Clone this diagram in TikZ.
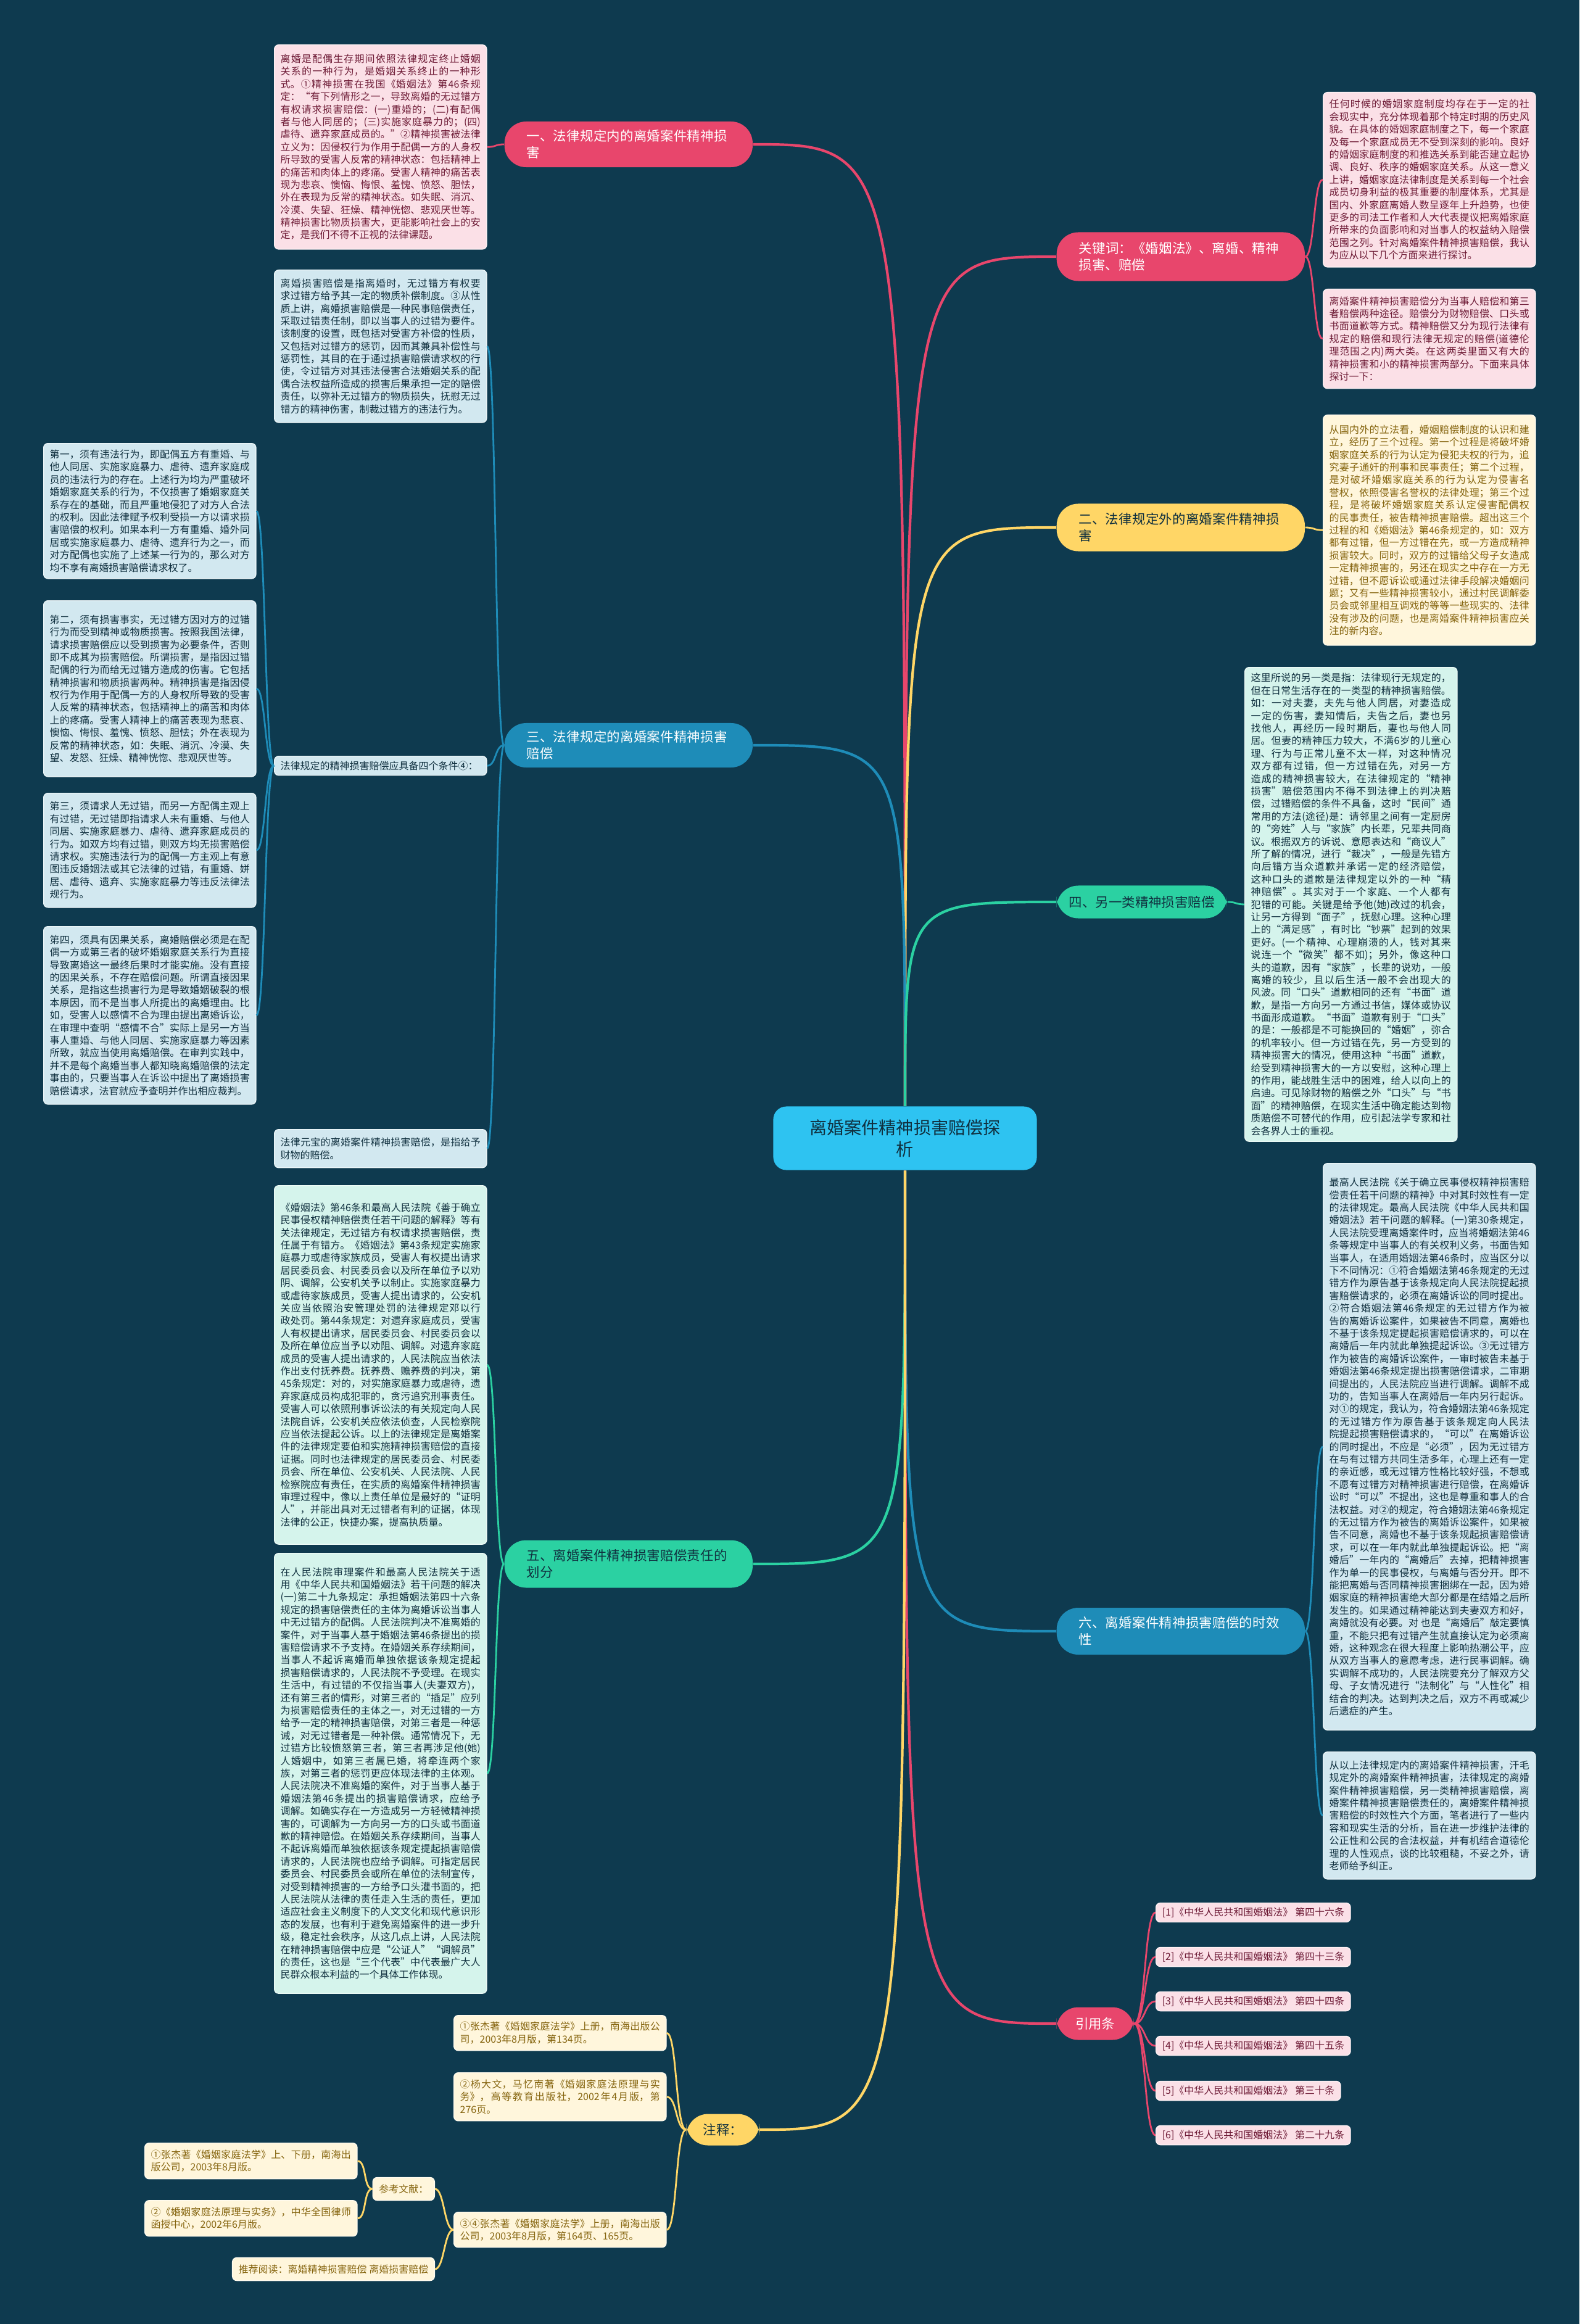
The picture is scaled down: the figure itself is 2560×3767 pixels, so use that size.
\documentclass[tikz,border=0pt]{standalone}
\usepackage{fontspec}
\setmainfont{Noto Sans CJK SC}
\XeTeXlinebreaklocale "zh"
\XeTeXlinebreakskip=0pt plus 0.6pt
\usetikzlibrary{calc}

\definecolor{bgteal}{HTML}{0E3A4F}
\definecolor{rosebr}{HTML}{E8466C}
\definecolor{rosebox}{HTML}{FBE0E7}
\definecolor{rosetxt}{HTML}{6E1B36}
\definecolor{goldbr}{HTML}{FFD666}
\definecolor{goldbox}{HTML}{FFF6DC}
\definecolor{goldtxt}{HTML}{85640E}
\definecolor{bluebr}{HTML}{1E8CB8}
\definecolor{bluebox}{HTML}{D2E8F0}
\definecolor{mintbr}{HTML}{2BD1A2}
\definecolor{mintbox}{HTML}{D5F4EC}
\definecolor{deeptxt}{HTML}{10303F}
\definecolor{hubcyan}{HTML}{2EC3F1}

\begin{document}
\begin{tikzpicture}[x=0.01cm, y=-0.01cm,
  leaf/.style={draw=white!55!#1, line width=0.4pt, fill=#1, rounded corners=2pt, anchor=north west,
    text width=3.24cm, inner xsep=0.1cm, inner ysep=0.08cm, align=justify,
    font=\fontsize{4.55}{5.8}\selectfont},
  roseleaf/.style={leaf=rosebox, text=rosetxt},
  goldleaf/.style={leaf=goldbox, text=goldtxt},
  blueleaf/.style={leaf=bluebox, text=deeptxt},
  mintleaf/.style={leaf=mintbox, text=deeptxt},
  tag/.style={draw=white!55!#1, line width=0.4pt, fill=#1, rounded corners=2pt, anchor=west,
    inner xsep=0.1cm, inner ysep=0.06cm, minimum height=0.31cm,
    font=\fontsize{4.55}{5.8}\selectfont},
  pill/.style={fill=#1, rounded corners=10pt, anchor=west, minimum height=0.74cm,
    inner xsep=0.36cm, inner ysep=0.08cm, align=left, font=\fontsize{6.1}{7.6}\selectfont},
  twig/.style={to path={.. controls ($(\tikztostart)+(#1,0)$) and ($(\tikztotarget)-(#1,0)$) .. (\tikztotarget)}},
  hubline/.style={line width=1.2pt},
  twigline/.style={line width=0.8pt}]

\fill[bgteal] (0,0) rectangle (2560,3767);
\useasboundingbox (0,0) rectangle (2560,3767);

\node[fill=hubcyan, text=deeptxt, rounded corners=6pt, minimum width=4.27cm, minimum height=1.03cm,
  align=center, font=\fontsize{8}{10}\selectfont] (hub) at (1467,1845) {离婚案件精神损害赔偿探\\析};

\node[pill=rosebr, text=white, text width=3.3cm] (lawin) at (817,234) {一、法律规定内的离婚案件精神损害};
\node[pill=rosebr, text=white, text width=3.3cm, minimum height=0.79cm] (keyw) at (1712,416) {关键词：《婚姻法》、离婚、精神损害、赔偿};
\node[pill=goldbr, text=deeptxt, text width=3.3cm, minimum height=0.77cm] (lawout) at (1712,855) {二、法律规定外的离婚案件精神损害};
\node[pill=bluebr, text=white, text width=3.3cm, minimum height=0.72cm] (lawrule) at (817,1208) {三、法律规定的离婚案件精神损害赔偿};
\node[pill=mintbr, text=deeptxt, minimum width=2.76cm, minimum height=0.53cm, inner xsep=0.17cm] (other) at (1712,1462) {四、另一类精神损害赔偿};
\node[pill=mintbr, text=deeptxt, text width=3.3cm, minimum height=0.77cm] (duty) at (817,2535) {五、离婚案件精神损害赔偿责任的划分};
\node[pill=bluebr, text=white, text width=3.3cm, minimum height=0.76cm] (limit) at (1712,2644) {六、离婚案件精神损害赔偿的时效性};
\node[pill=rosebr, text=white, minimum width=1.25cm, minimum height=0.53cm, inner xsep=0.2cm] (cite) at (1712,3280) {引用条};
\node[pill=goldbr, text=deeptxt, minimum width=1.18cm, minimum height=0.51cm, inner xsep=0.2cm] (note) at (1112,3452) {注释：};

\node[roseleaf, minimum height=3.31cm] (lawinA) at (444,72) {离婚是配偶生存期间依照法律规定终止婚姻关系的一种行为，是婚姻关系终止的一种形式。①精神损害在我国《婚姻法》第46条规定：“有下列情形之一，导致离婚的无过错方有权请求损害赔偿：(一)重婚的；(二)有配偶者与他人同居的；(三)实施家庭暴力的；(四)虐待、遗弃家庭成员的。”②精神损害被法律立义为：因侵权行为作用于配偶一方的人身权所导致的受害人反常的精神状态：包括精神上的痛苦和肉体上的疼痛。受害人精神的痛苦表现为悲哀、懊恼、悔恨、羞愧、愤怒、胆怯，外在表现为反常的精神状态。如失眠、消沉、冷漠、失望、狂燥、精神恍惚、悲观厌世等。精神损害比物质损害大，更能影响社会上的安定，是我们不得不正视的法律课题。};

\node[roseleaf, minimum height=2.83cm] (keywA) at (2144,149) {任何时候的婚姻家庭制度均存在于一定的社会现实中，充分体现着那个特定时期的历史风貌。在具体的婚姻家庭制度之下，每一个家庭及每一个家庭成员无不受到深刻的影响。良好的婚姻家庭制度的和推选关系到能否建立起协调、良好、秩序的婚姻家庭关系。从这一意义上讲，婚姻家庭法律制度是关系到每一个社会成员切身利益的极其重要的制度体系，尤其是国内、外家庭离婚人数呈逐年上升趋势，也使更多的司法工作者和人大代表提议把离婚家庭所带来的负面影响和对当事人的权益纳入赔偿范围之列。针对离婚案件精神损害赔偿，我认为应从以下几个方面来进行探讨。};
\node[roseleaf, minimum height=1.61cm] (keywB) at (2144,468) {离婚案件精神损害赔偿分为当事人赔偿和第三者赔偿两种途径。赔偿分为财物赔偿、口头或书面道歉等方式。精神赔偿又分为现行法律有规定的赔偿和现行法律无规定的赔偿(道德伦理范围之内)两大类。在这两类里面又有大的精神损害和小的精神损害两部分。下面来具体探讨一下：};

\node[goldleaf, minimum height=3.73cm] (lawoutA) at (2144,672) {从国内外的立法看，婚姻赔偿制度的认识和建立，经历了三个过程。第一个过程是将破坏婚姻家庭关系的行为认定为侵犯夫权的行为，追究妻子通奸的刑事和民事责任；第二个过程，是对破坏婚姻家庭关系的行为认定为侵害名誉权，依照侵害名誉权的法律处理；第三个过程，是将破坏婚姻家庭关系认定侵害配偶权的民事责任，被告精神损害赔偿。超出这三个过程的和《婚姻法》第46条规定的，如：双方都有过错，但一方过错在先，或一方造成精神损害较大。同时，双方的过错给父母子女造成一定精神损害的，另还在现实之中存在一方无过错，但不愿诉讼或通过法律手段解决婚姻问题；又有一些精神损害较小，通过村民调解委员会或邻里相互调戏的等等一些现实的、法律没有涉及的问题，也是离婚案件精神损害应关注的新内容。};

\node[blueleaf, minimum height=2.47cm] (lawruleA) at (444,437) {离婚损害赔偿是指离婚时，无过错方有权要求过错方给予其一定的物质补偿制度。③从性质上讲，离婚损害赔偿是一种民事赔偿责任，采取过错责任制，即以当事人的过错为要件。该制度的设置，既包括对受害方补偿的性质，又包括对过错方的惩罚，因而其兼具补偿性与惩罚性，其目的在于通过损害赔偿请求权的行使，令过错方对其违法侵害合法婚姻关系的配偶合法权益所造成的损害后果承担一定的赔偿责任，以弥补无过错方的物质损失，抚慰无过错方的精神伤害，制裁过错方的违法行为。};
\node[blueleaf, minimum height=0.31cm, inner ysep=0.04cm] (lawruleB) at (444,1225) {法律规定的精神损害赔偿应具备四个条件④：};
\node[blueleaf, minimum height=0.62cm] (lawruleC) at (444,1830) {法律元宝的离婚案件精神损害赔偿，是指给予财物的赔偿。};

\node[blueleaf, minimum height=2.19cm] (termA) at (70,718) {第一，须有违法行为，即配偶五方有重婚、与他人同居、实施家庭暴力、虐待、遗弃家庭成员的违法行为的存在。上述行为均为严重破坏婚姻家庭关系的行为，不仅损害了婚姻家庭关系存在的基础，而且严重地侵犯了对方人合法的权利。因此法律赋予权利受损一方以请求损害赔偿的权利。如果本利一方有重婚、婚外同居或实施家庭暴力、虐待、遗弃行为之一，而对方配偶也实施了上述某一行为的，那么对方均不享有离婚损害赔偿请求权了。};
\node[blueleaf, minimum height=2.85cm] (termB) at (70,973) {第二，须有损害事实，无过错方因对方的过错行为而受到精神或物质损害。按照我国法律，请求损害赔偿应以受到损害为必要条件，否则即不成其为损害赔偿。所谓损害，是指因过错配偶的行为而给无过错方造成的伤害。它包括精神损害和物质损害两种。精神损害是指因侵权行为作用于配偶一方的人身权所导致的受害人反常的精神状态，包括精神上的痛苦和肉体上的疼痛。受害人精神上的痛苦表现为悲哀、懊恼、悔恨、羞愧、愤怒、胆怯；外在表现为反常的精神状态，如：失眠、消沉、冷漠、失望、发怒、狂燥、精神恍惚、悲观厌世等。};
\node[blueleaf, minimum height=1.85cm] (termC) at (70,1285) {第三，须请求人无过错，而另一方配偶主观上有过错，无过错即指请求人未有重婚、与他人同居、实施家庭暴力、虐待、遗弃家庭成员的行为。如双方均有过错，则双方均无损害赔偿请求权。实施违法行为的配偶一方主观上有意图违反婚姻法或其它法律的过错，有重婚、姘居、虐待、遗弃、实施家庭暴力等违反法律法规行为。};
\node[blueleaf, minimum height=2.88cm] (termD) at (70,1501) {第四，须具有因果关系，离婚赔偿必须是在配偶一方或第三者的破坏婚姻家庭关系行为直接导致离婚这一最终后果时才能实施。没有直接的因果关系，不存在赔偿问题。所谓直接因果关系，是指这些损害行为是导致婚姻破裂的根本原因，而不是当事人所提出的离婚理由。比如，受害人以感情不合为理由提出离婚诉讼，在审理中查明“感情不合”实际上是另一方当事人重婚、与他人同居、实施家庭暴力等因素所致，就应当使用离婚赔偿。在审判实践中，并不是每个离婚当事人都知晓离婚赔偿的法定事由的，只要当事人在诉讼中提出了离婚损害赔偿请求，法官就应予查明并作出相应裁判。};

\node[mintleaf, minimum height=7.68cm] (otherA) at (2017,1081) {这里所说的另一类是指：法律现行无规定的，但在日常生活存在的一类型的精神损害赔偿。如：一对夫妻，夫先与他人同居，对妻造成一定的伤害，妻知情后，夫告之后，妻也另找他人，再经历一段时期后，妻也与他人同居。但妻的精神压力较大，不满6岁的儿童心理、行为与正常儿童不太一样，对这种情况双方都有过错，但一方过错在先，对另一方造成的精神损害较大，在法律规定的“精神损害”赔偿范围内不得不到法律上的判决赔偿，过错赔偿的条件不具备，这时“民间”通常用的方法(途径)是：请邻里之间有一定厨房的“旁姓”人与“家族”内长辈，兄辈共同商议。根据双方的诉说、意愿表达和“商议人”所了解的情况，进行“裁决”，一般是先错方向后错方当众道歉并承诺一定的经济赔偿，这种口头的道歉是法律规定以外的一种“精神赔偿”。其实对于一个家庭、一个人都有犯错的可能。关键是给予他(她)改过的机会，让另一方得到“面子”，抚慰心理。这种心理上的“满足感”，有时比“钞票”起到的效果更好。(一个精神、心理崩溃的人，钱对其来说连一个“微笑”都不如)；另外，像这种口头的道歉，因有“家族”，长辈的说劝，一般离婚的较少，且以后生活一般不会出现大的风波。同“口头”道歉相同的还有“书面”道歉，是指一方向另一方通过书信，媒体或协议书面形成道歉。“书面”道歉有别于“口头”的是：一般都是不可能换回的“婚姻”，弥合的机率较小。但一方过错在先，另一方受到的精神损害大的情况，使用这种“书面”道歉，给受到精神损害大的一方以安慰，这种心理上的作用，能战胜生活中的困难，给人以向上的启迪。可见除财物的赔偿之外“口头”与“书面”的精神赔偿，在现实生活中确定能达到物质赔偿不可替代的作用，应引起法学专家和社会各界人士的重视。};

\node[mintleaf, minimum height=5.81cm] (dutyA) at (444,1921) {《婚姻法》第46条和最高人民法院《善于确立民事侵权精神赔偿责任若干问题的解释》等有关法律规定，无过错方有权请求损害赔偿，责任属于有错方。《婚姻法》第43条规定实施家庭暴力或虐待家族成员，受害人有权提出请求居民委员会、村民委员会以及所在单位予以劝阴、调解，公安机关予以制止。实施家庭暴力或虐待家族成员，受害人提出请求的，公安机关应当依照治安管理处罚的法律规定邓以行政处罚。第44条规定：对遗弃家庭成员，受害人有权提出请求，居民委员会、村民委员会以及所在单位应当予以劝阻、调解。对遗弃家庭成员的受害人提出请求的，人民法院应当依法作出支付抚养费。抚养费、赡养费的判决，第45条规定：对的，对实施家庭暴力或虐待，遗弃家庭成员构成犯罪的，贪污追究刑事责任。受害人可以依照刑事诉讼法的有关规定向人民法院自诉，公安机关应依法侦查，人民检察院应当依法提起公诉。以上的法律规定是离婚案件的法律规定要伯和实施精神损害赔偿的直接证据。同时也法律规定的居民委员会、村民委员会、所在单位、公安机关、人民法院、人民检察院应有责任，在实质的离婚案件精神损害审理过程中，像以上责任单位是最好的“证明人”，并能出具对无过错者有利的证据，体现法律的公正，快捷办案，提高执质量。};
\node[mintleaf, minimum height=7.13cm] (dutyB) at (444,2517) {在人民法院审理案件和最高人民法院关于适用《中华人民共和国婚姻法》若干问题的解决(一)第二十九条规定：承担婚姻法第四十六条规定的损害赔偿责任的主体为离婚诉讼当事人中无过错方的配偶。人民法院判决不准离婚的案件，对于当事人基于婚姻法第46条提出的损害赔偿请求不予支持。在婚姻关系存续期间，当事人不起诉离婚而单独依据该条规定提起损害赔偿请求的，人民法院不予受理。在现实生活中，有过错的不仅指当事人(夫妻双方)，还有第三者的情形，对第三者的“插足”应列为损害赔偿责任的主体之一，对无过错的一方给予一定的精神损害赔偿，对第三者是一种惩诫，对无过错者是一种补偿。通常情况下，无过错方比较愤怒第三者，第三者再涉足他(她)人婚姻中，如第三者属已婚，将牵连两个家族，对第三者的惩罚更应体现法律的主体观。人民法院决不准离婚的案件，对于当事人基于婚姻法第46条提出的损害赔偿请求，应给予调解。如确实存在一方造成另一方轻微精神损害的，可调解为一方向另一方的口头或书面道歉的精神赔偿。在婚姻关系存续期间，当事人不起诉离婚而单独依据该条规定提起损害赔偿请求的，人民法院也应给予调解。可指定居民委员会、村民委员会或所在单位的法制宣传，对受到精神损害的一方给予口头灌书面的，把人民法院从法律的责任走入生活的责任，更加适应社会主义制度下的人文文化和现代意识形态的发展，也有利于避免离婚案件的进一步升级，稳定社会秩序，从这几点上讲，人民法院在精神损害赔偿中应是“公证人”“调解员”的责任，这也是“三个代表”中代表最广大人民群众根本利益的一个具体工作体现。};

\node[blueleaf, minimum height=9.18cm] (limitA) at (2144,1885) {最高人民法院《关于确立民事侵权精神损害赔偿责任若干问题的精神》中对其时效性有一定的法律规定。最高人民法院《中华人民共和国婚姻法》若干问题的解释。(一)第30条规定，人民法院受理离婚案件时，应当将婚姻法第46条等规定中当事人的有关权利义务，书面告知当事人，在适用婚姻法第46条时，应当区分以下不同情况：①符合婚姻法第46条规定的无过错方作为原告基于该条规定向人民法院提起损害赔偿请求的，必须在离婚诉讼的同时提出。②符合婚姻法第46条规定的无过错方作为被告的离婚诉讼案件，如果被告不同意，离婚也不基于该条规定提起损害赔偿请求的，可以在离婚后一年内就此单独提起诉讼。③无过错方作为被告的离婚诉讼案件，一审时被告未基于婚姻法第46条规定提出损害赔偿请求，二审期间提出的，人民法院应当进行调解。调解不成功的，告知当事人在离婚后一年内另行起诉。对①的规定，我认为，符合婚姻法第46条规定的无过错方作为原告基于该条规定向人民法院提起损害赔偿请求的，“可以”在离婚诉讼的同时提出，不应是“必须”，因为无过错方在与有过错方共同生活多年，心理上还有一定的亲近感，或无过错方性格比较好强，不想或不愿有过错方对精神损害进行赔偿，在离婚诉讼时“可以”不提出，这也是尊重和事人的合法权益。对②的规定，符合婚姻法第46条规定的无过错方作为被告的离婚诉讼案件，如果被告不同意，离婚也不基于该条规起损害赔偿请求，可以在一年内就此单独提起诉讼。把“离婚后”一年内的“离婚后”去掉，把精神损害作为单一的民事侵权，与离婚与否分开。即不能把离婚与否同精神损害捆绑在一起，因为婚姻家庭的精神损害绝大部分都是在结婚之后所发生的。如果通过精神能达到夫妻双方和好，离婚就没有必要。对 也是“离婚后”敲定要慎重，不能只把有过错产生就直接认定为必须离婚，这种观念在很大程度上影响热潮公平，应从双方当事人的意愿考虑，进行民事调解。确实调解不成功的，人民法院要充分了解双方父母、子女情况进行“法制化”与“人性化”相结合的判决。达到判决之后，双方不再或减少后遗症的产生。};
\node[blueleaf, minimum height=2.06cm] (limitB) at (2144,2839) {从以上法律规定内的离婚案件精神损害，汗毛规定外的离婚案件精神损害，法律规定的离婚案件精神损害赔偿，另一类精神损害赔偿，离婚案件精神损害赔偿责任的，离婚案件精神损害赔偿的时效性六个方面，笔者进行了一些内容和现实生活的分析，旨在进一步维护法律的公正性和公民的合法权益，并有机结合道德伦理的人性观点，谈的比较粗糙，不妥之外，请老师给予纠正。};

\node[tag=rosebox, text=rosetxt] (citeA) at (1873,3100) {[1]《中华人民共和国婚姻法》 第四十六条};
\node[tag=rosebox, text=rosetxt] (citeB) at (1873,3172) {[2]《中华人民共和国婚姻法》 第四十三条};
\node[tag=rosebox, text=rosetxt] (citeC) at (1873,3244) {[3]《中华人民共和国婚姻法》 第四十四条};
\node[tag=rosebox, text=rosetxt] (citeD) at (1873,3316) {[4]《中华人民共和国婚姻法》 第四十五条};
\node[tag=rosebox, text=rosetxt] (citeE) at (1873,3389) {[5]《中华人民共和国婚姻法》 第三十条};
\node[tag=rosebox, text=rosetxt] (citeF) at (1873,3461) {[6]《中华人民共和国婚姻法》 第二十九条};

\node[goldleaf, minimum height=0.57cm] (noteA) at (735,3266) {①张杰著《婚姻家庭法学》上册，南海出版公司，2003年8月版，第134页。};
\node[goldleaf, minimum height=0.78cm] (noteB) at (735,3359) {②杨大文，马忆南著《婚姻家庭法原理与实务》，高等教育出版社，2002年4月版，第276页。};
\node[goldleaf, minimum height=0.57cm] (noteC) at (735,3585) {③④张杰著《婚姻家庭法学》上册，南海出版公司，2003年8月版，第164页、165页。};
\node[tag=goldbox, text=goldtxt, anchor=east, minimum height=0.37cm] (refs) at (705,3548) {参考文献：};
\node[tag=goldbox, text=goldtxt, anchor=east, minimum height=0.37cm] (reads) at (705,3678) {推荐阅读：离婚精神损害赔偿 离婚损害赔偿};
\node[goldleaf, minimum height=0.58cm] (refA) at (234,3473) {①张杰著《婚姻家庭法学》上、下册，南海出版公司，2003年8月版。};
\node[goldleaf, minimum height=0.58cm] (refB) at (234,3566) {②《婚姻家庭法原理与实务》，中华全国律师函授中心，2002年6月版。};

\draw[rosebr, hubline] (hub.north) .. controls (hub.north |- lawin.east) .. (lawin.east);
\draw[rosebr, hubline] (hub.north) .. controls (hub.north |- keyw.west) .. (keyw.west);
\draw[goldbr, hubline] (hub.north) .. controls (hub.north |- lawout.west) .. (lawout.west);
\draw[bluebr, hubline] (hub.north) .. controls (hub.north |- lawrule.east) .. (lawrule.east);
\draw[mintbr, hubline] (hub.north) .. controls (hub.north |- other.west) .. (other.west);
\draw[mintbr, hubline] (hub.south) .. controls (hub.south |- duty.east) .. (duty.east);
\draw[bluebr, hubline] (hub.south) .. controls (hub.south |- limit.west) .. (limit.west);
\draw[rosebr, hubline] (hub.south) .. controls (hub.south |- cite.west) .. (cite.west);
\draw[goldbr, hubline] (hub.south) .. controls (hub.south |- note.east) .. (note.east);

\draw[rosebr, twigline] (lawin.west) to[twig=-15] (lawinA.east);
\draw[rosebr, twigline] (keyw.east) to[twig=15] (keywA.west);
\draw[rosebr, twigline] (keyw.east) to[twig=15] (keywB.west);
\draw[goldbr, twigline] (lawout.east) to[twig=15] (lawoutA.west);
\draw[bluebr, twigline] (lawrule.west) to[twig=-15] (lawruleA.east);
\draw[bluebr, twigline] (lawrule.west) to[twig=-15] (lawruleB.east);
\draw[bluebr, twigline] (lawrule.west) to[twig=-15] (lawruleC.east);
\foreach \t in {termA,termB,termC,termD}
  \draw[bluebr, twigline] (lawruleB.west) to[twig=-15] (\t.east);
\draw[mintbr, twigline] (other.east) to[twig=15] (otherA.west);
\draw[mintbr, twigline] (duty.west) to[twig=-15] (dutyA.east);
\draw[mintbr, twigline] (duty.west) to[twig=-15] (dutyB.east);
\draw[bluebr, twigline] (limit.east) to[twig=15] (limitA.west);
\draw[bluebr, twigline] (limit.east) to[twig=15] (limitB.west);
\foreach \c in {citeA,citeB,citeC,citeD,citeE,citeF}
  \draw[rosebr, twigline] (cite.east) to[twig=18] (\c.west);
\foreach \n in {noteA,noteB,noteC}
  \draw[goldbr, twigline] (note.west) to[twig=-17] (\n.east);
\draw[goldbr, twigline] (noteC.west) to[twig=-15] (refs.east);
\draw[goldbr, twigline] (noteC.west) to[twig=-15] (reads.east);
\draw[goldbr, twigline] (refs.west) to[twig=-15] (refA.east);
\draw[goldbr, twigline] (refs.west) to[twig=-15] (refB.east);
\end{tikzpicture}
\end{document}
